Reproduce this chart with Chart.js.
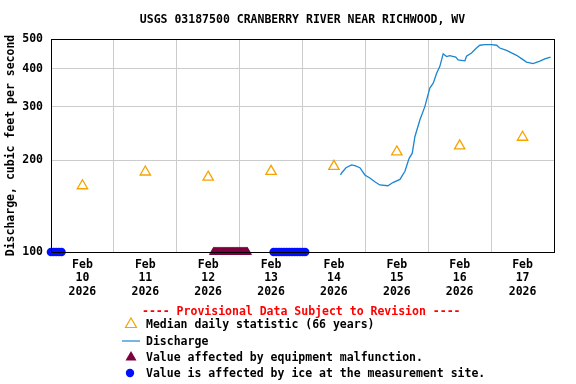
<!DOCTYPE html>
<html>
<head>
<meta charset="utf-8">
<script src="https://cdn.jsdelivr.net/npm/chart.js@4.4.1/dist/chart.umd.min.js"></script>
<style>
  body { margin: 0; background: #fff; }
  #wrap { position: relative; width: 576px; height: 384px; }
  canvas { position: absolute; left: 0; top: 0; }
  .lg { position: absolute; font: bold 11.5px "DejaVu Sans Mono", monospace; line-height: 14px; white-space: pre; color: #000; }
  .sym { position: absolute; }
</style>
</head>
<body>
<div id="wrap">
  <canvas id="myChart" width="576" height="384"></canvas>
  <div class="lg" style="left:142px; top:304px; color:#f00;">---- Provisional Data Subject to Revision ----</div>
  <svg class="sym" style="left:124px; top:317px;" width="14" height="12"><polygon points="7,1 12.5,10.5 1.5,10.5" fill="none" stroke="#f5a300" stroke-width="1.2"/></svg>
  <div class="lg" style="left:146px; top:317px;">Median daily statistic (66 years)</div>
  <svg class="sym" style="left:122px; top:335px;" width="18" height="12"><line x1="0" y1="6" x2="18" y2="6" stroke="#1a85d1" stroke-width="1.2"/></svg>
  <div class="lg" style="left:146px; top:334px;">Discharge</div>
  <svg class="sym" style="left:124px; top:350px;" width="14" height="12"><polygon points="7,1 12.5,10.5 1.5,10.5" fill="#7d0040"/></svg>
  <div class="lg" style="left:146px; top:350px;">Value affected by equipment malfunction.</div>
  <svg class="sym" style="left:124px; top:367px;" width="12" height="12"><circle cx="6" cy="6" r="4.2" fill="#0010ff"/></svg>
  <div class="lg" style="left:146px; top:366px;">Value is affected by ice at the measurement site.</div>
</div>
<script>
// hours counted from Feb 10 2026 00:00
var days = ['10', '11', '12', '13', '14', '15', '16', '17'];
var medianHours = [12, 36, 60, 84, 108, 132, 156, 180];
var medianValues = [165, 183, 176, 184, 191, 213, 223, 238];

var qHours = [110.5, 111, 112.6, 114.7, 116, 117.9, 119.8, 121.7, 123.6, 125.5,
    128.6, 130.5, 133.2, 135.1, 136.7, 137.9, 138.9, 140.8, 142.7, 144.6,
    145.9, 147.2, 148.4, 149.7, 151, 152.2, 154.5, 155.4, 158, 158.6,
    160.5, 162.4, 163.7, 165.6, 168.1, 170.1, 171.3, 173.9, 175.8, 177.7,
    179.6, 181.5, 184, 186.6, 188.5, 190.7];
var qValues = [179, 182, 189, 193, 192, 189, 179, 175, 170, 166,
    165, 169, 173, 184, 203, 211, 239, 271, 300, 345,
    358, 386, 406, 447, 438, 441, 436, 427, 424, 439,
    450, 467, 477, 479, 479, 477, 467, 459, 450, 442,
    431, 420, 415, 423, 430, 436];

var iceHours = [0, 1, 2, 3, 4, 85, 86, 87, 88, 89, 90, 91, 92, 93, 94, 95, 96, 97];
var malfHours = [62, 62.25, 62.5, 62.75, 63, 63.25, 63.5, 63.75, 64, 64.25, 64.5, 64.75,
    65, 65.25, 65.5, 65.75, 66, 66.25, 66.5, 66.75, 67, 67.25, 67.5, 67.75,
    68, 68.25, 68.5, 68.75, 69, 69.25, 69.5, 69.75, 70, 70.25, 70.5, 70.75,
    71, 71.25, 71.5, 71.75, 72, 72.25, 72.5, 72.75, 73, 73.25, 73.5, 73.75,
    74, 74.25, 74.5, 74.75, 75];
var yTicks = [100, 200, 300, 400, 500];

var font = { family: 'DejaVu Sans Mono', size: 11.5, weight: 'bold' };

var boxPlugin = {
    id: 'box',
    afterDraw: function (chart) {
        var a = chart.chartArea, ctx = chart.ctx;
        ctx.save();
        ctx.strokeStyle = '#000';
        ctx.lineWidth = 1;
        ctx.strokeRect(Math.round(a.left) + 0.5, Math.round(a.top) + 0.5,
            Math.round(a.right - a.left), Math.round(a.bottom - a.top));
        ctx.restore();
    }
};

function pts(xs, ys) {
    return xs.map(function (x, i) { return { x: x, y: ys ? ys[i] : 100 }; });
}

var ctx = document.getElementById('myChart').getContext('2d');
var myChart = new Chart(ctx, {
    type: 'line',
    data: {
        datasets: [{
            label: 'Discharge',
            data: pts(qHours, qValues),
            borderColor: '#1a85d1',
            borderWidth: 1.3,
            pointRadius: 0,
            tension: 0
        }, {
            label: 'Median daily statistic (66 years)',
            data: pts(medianHours, medianValues),
            showLine: false,
            pointStyle: 'triangle',
            pointRadius: 6,
            borderColor: '#f5a300',
            backgroundColor: 'rgba(0,0,0,0)',
            borderWidth: 1.3
        }, {
            label: 'Value affected by equipment malfunction.',
            data: pts(malfHours),
            showLine: false,
            pointStyle: 'triangle',
            pointRadius: 5.3,
            borderWidth: 0,
            backgroundColor: '#7d0040',
            clip: false
        }, {
            label: 'Value is affected by ice at the measurement site.',
            data: pts(iceHours),
            showLine: false,
            pointStyle: 'circle',
            pointRadius: 4.3,
            borderWidth: 0,
            backgroundColor: '#0010ff',
            clip: false
        }]
    },
    options: {
        responsive: false,
        animation: false,
        layout: { padding: { left: 0, right: 22, top: 0, bottom: 84 } },
        plugins: {
            legend: { display: false },
            tooltip: { enabled: false },
            title: {
                display: true,
                text: 'USGS 03187500 CRANBERRY RIVER NEAR RICHWOOD, WV',
                color: '#000',
                font: font,
                fullSize: false,
                padding: { top: 13, bottom: 12.2 }
            }
        },
        scales: {
            x: {
                type: 'linear',
                position: 'bottom',
                min: 0,
                max: 192,
                afterBuildTicks: function (s) {
                    s.ticks = medianHours.map(function (v) { return { value: v }; });
                },
                afterFit: function (s) { s.height = 48; },
                grid: { display: false, drawTicks: false },
                border: { display: false },
                ticks: {
                    autoSkip: false,
                    maxRotation: 0,
                    padding: 6,
                    color: '#000',
                    font: { family: font.family, size: font.size, weight: font.weight, lineHeight: 1.17 },
                    callback: function (v) {
                        var i = medianHours.indexOf(v);
                        return i < 0 ? '' : ['Feb', days[i], '2026'];
                    }
                }
            },
            xg: {
                type: 'linear',
                position: 'bottom',
                min: 0,
                max: 192,
                afterBuildTicks: function (s) {
                    s.ticks = [24, 48, 72, 96, 120, 144, 168].map(function (v) { return { value: v }; });
                },
                afterFit: function (s) { s.height = 0; },
                grid: { color: '#cccccc', drawTicks: false },
                border: { display: false },
                ticks: { display: false }
            },
            y: {
                type: 'logarithmic',
                min: 100,
                max: 500,
                afterBuildTicks: function (s) {
                    s.ticks = yTicks.map(function (v) { return { value: v }; });
                },
                afterFit: function (s) { s.width = 51; },
                grid: { color: '#cccccc', drawTicks: false },
                border: { display: false },
                ticks: {
                    padding: 8,
                    color: '#000',
                    font: font,
                    callback: function (v) { return String(v); }
                },
                title: {
                    display: true,
                    text: 'Discharge, cubic feet per second',
                    color: '#000',
                    font: font,
                    padding: { top: 4 }
                }
            }
        }
    },
    plugins: [boxPlugin]
});
</script>
</body>
</html>
